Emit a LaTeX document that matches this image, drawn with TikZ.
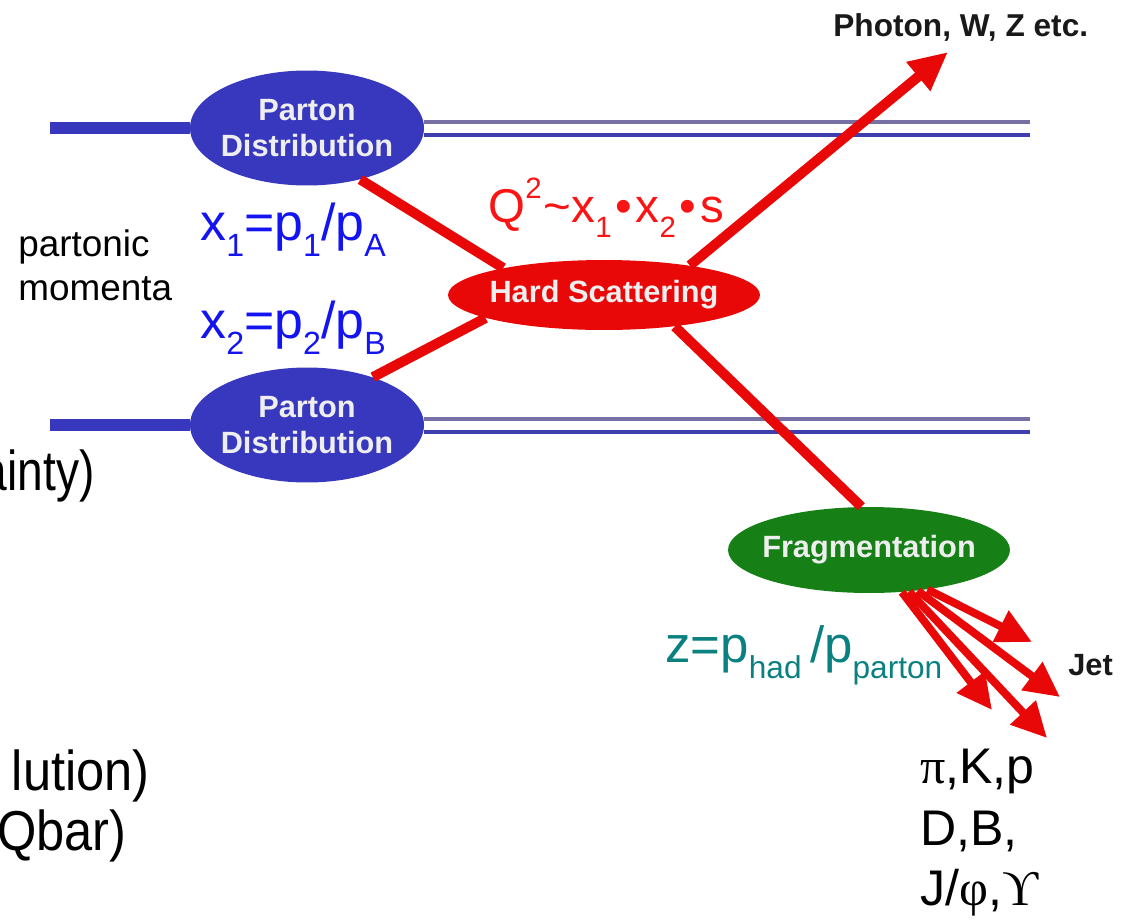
\documentclass[tikz,border=0pt]{standalone}
\usepackage{fontspec}
\setmainfont{Liberation Sans}
\newfontfamily\greekserif{Liberation Serif}
\usetikzlibrary{shapes.geometric,arrows.meta,positioning}
\definecolor{pdblue}{RGB}{56,56,190}
\definecolor{beamgrey}{RGB}{118,112,165}
\definecolor{beamblue}{RGB}{62,62,175}
\definecolor{hsred}{RGB}{232,8,8}
\definecolor{fraggreen}{RGB}{22,128,22}
\definecolor{textblue}{RGB}{20,20,240}
\definecolor{textred}{RGB}{250,20,20}
\definecolor{textteal}{RGB}{10,128,128}
\definecolor{labelwhite}{RGB}{238,238,238}
\newcommand{\lowidx}[1]{\raisebox{-0.32em}{\scalebox{0.62}{#1}}}
\newcommand{\highidx}[1]{\raisebox{0.5em}{\scalebox{0.62}{#1}}}

\begin{document}
\begin{tikzpicture}[x=0.02cm,y=-0.02cm]
\tikzstyle{blob}=[ellipse,inner ysep=0,inner xsep=-0.25cm,text=labelwhite,align=center,font=\fontsize{17.5}{20.5}\selectfont\bfseries]
\tikzstyle{txt}=[inner sep=0]
\tikzset{
	pdf node/.style={blob,fill=pdblue,minimum width=4.68cm,minimum height=2.3cm},
	hard node/.style={blob,fill=hsred,minimum width=6.24cm,minimum height=1.4cm},
	frag node/.style={blob,fill=fraggreen,minimum width=5.64cm,minimum height=1.72cm},
	beam/.style={pdblue,line width=6.8pt},
	beam up/.style={beamgrey,line width=2.3pt},
	beam down/.style={beamblue,line width=2.3pt},
	parton line/.style={hsred,line width=5.7pt},
	jet line/.style={hsred,line width=4.5pt,-{Triangle[length=20pt,width=19pt]}},
	slide text/.style={txt,font=\fontsize{32}{36}\selectfont}
}
\useasboundingbox (0,0) rectangle (1124,919);
\clip (0,0) rectangle (1124,919);

% blobs
\node[pdf node] (pdA) at (307,128) {Parton\\Distribution};
\node[pdf node] (pdB) at (307,425) {Parton\\Distribution};
\node[hard node] (hs) at (604,295) {Hard Scattering};
\node[frag node] (frag) at (869,550) {Fragmentation};

\coordinate (beamAin) at (50,128);
\coordinate (beamAout) at (1030,128);
\coordinate (beamBin) at (50,425);
\coordinate (beamBout) at (1030,425);
\coordinate (photon) at (948,52);
\coordinate (jet1) at (1032,642);
\coordinate (jet2) at (1060,697);
\coordinate (jet3) at (1047,738);
\coordinate (jet4) at (992,710);

% beams
\draw[beam] (beamAin) -- (pdA.west);
\draw[beam] (beamBin) -- (pdB.west);
\draw[beam up] ([yshift=0.12cm]pdA.east) -- ([yshift=0.12cm]beamAout);
\draw[beam down] ([yshift=-0.14cm]pdA.east) -- ([yshift=-0.14cm]beamAout);
\draw[beam up] ([yshift=0.12cm]pdB.east) -- ([yshift=0.12cm]beamBout);
\draw[beam down] ([yshift=-0.14cm]pdB.east) -- ([yshift=-0.14cm]beamBout);

% partons
\draw[parton line] (pdA.-44) -- (hs.165);
\draw[parton line] (pdB.36) -- (hs.191);
\draw[parton line,-{Triangle[length=22pt,width=20pt]}] (hs.19) -- (photon);
\draw[parton line] (hs.-24) -- (frag.100);
\foreach \ang/\tip in {-34/jet1,-40/jet2,-46/jet3,-52/jet4}
	\draw[jet line] (frag.\ang) -- (\tip);

% labels
\node[txt,anchor=west,align=left,font=\fontsize{21}{25}\selectfont] (momenta) at (18,265) {partonic\\momenta};
\node[txt,anchor=base west,text=textblue,font=\fontsize{29.5}{30}\selectfont] (xone) at (200,240) {x\lowidx{1}=p\lowidx{1}/p\lowidx{A}};
\node[txt,anchor=base west,text=textblue,font=\fontsize{29.5}{30}\selectfont] (xtwo) at (200,338) {x\lowidx{2}=p\lowidx{2}/p\lowidx{B}};
\node[txt,anchor=base west,text=textred,font=\fontsize{27}{28}\selectfont] (qsq) at (488,222) {Q\highidx{2}\hspace{0.05em}\textasciitilde x\lowidx{1}\hspace{0.08em}\textbullet\hspace{0.08em}x\lowidx{2}\hspace{0.08em}\textbullet\hspace{0.08em}s};
\node[txt,anchor=base west,text=textteal,font=\fontsize{29}{30}\selectfont] (zfrac) at (665,662) {z=p\lowidx{had}\,/p\lowidx{parton}};
\node[txt,anchor=base west,text=black!90,font=\fontsize{18}{20}\selectfont\bfseries] (photonlbl) at (833,37) {Photon, W, Z etc.};
\node[txt,anchor=base west,text=black!90,font=\fontsize{17.5}{20}\selectfont\bfseries] (jetlbl) at (1068,675) {Jet};

% hadrons
\node[txt,anchor=base west,font=\fontsize{28.5}{30}\selectfont] (hadA) at (920,783) {{\greekserif π},K,p};
\node[txt,anchor=base west,font=\fontsize{28.5}{30}\selectfont] (hadB) at (920,845) {D,B,};
\node[txt,anchor=base west,font=\fontsize{28.5}{30}\selectfont] (hadC) at (920,905) {J/{\greekserif φ},{\greekserif ϒ}};

% cut slide text
\node[slide text,anchor=base east] (cutA) at (95,490) {\scalebox{0.82}[1]{ainty)}};
\node[slide text,anchor=base east] (cutB) at (150,790) {\scalebox{0.9}[1]{lution)}};
\node[slide text,anchor=base east] (cutC) at (127,850) {\scalebox{0.9}[1]{Qbar)}};
\end{tikzpicture}
\end{document}
